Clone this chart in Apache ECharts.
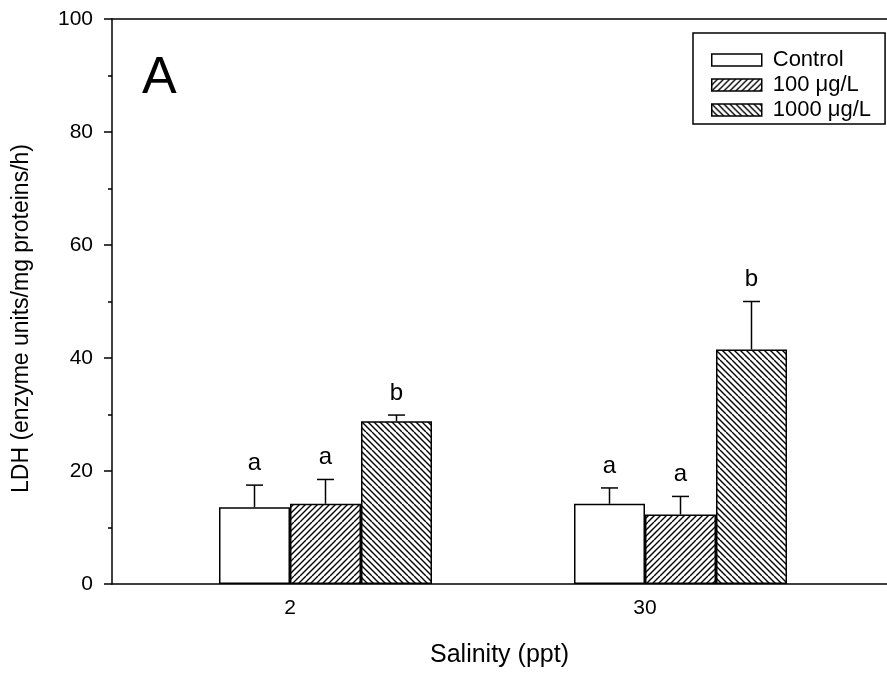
<!DOCTYPE html>
<html>
<head>
<meta charset="utf-8">
<script src="https://cdn.jsdelivr.net/npm/echarts@6/dist/echarts.min.js"></script>
<style>html,body{margin:0;padding:0;background:#fff}#c{width:887px;height:678px}</style>
</head>
<body>
<div id="c"></div>
<script>
const categories = ['2', '30'];
const seriesNames = ['Control', '100 μg/L', '1000 μg/L'];
const controlMean = [13.6, 14.2];
const controlErr = [17.5, 17.0];
const low100Mean = [14.2, 12.3];
const low100Err = [18.5, 15.5];
const high1000Mean = [28.8, 41.5];
const high1000Err = [29.9, 50.0];
const controlLetters = ['a', 'a'];
const low100Letters = ['a', 'a'];
const high1000Letters = ['b', 'b'];
const yTicks = [0, 20, 40, 60, 80, 100];

function hatch(dir) {
  const s = 6, k = 3;
  const cv = document.createElement('canvas');
  cv.width = s * k; cv.height = s * k;
  const ctx = cv.getContext('2d');
  ctx.fillStyle = '#fff';
  ctx.fillRect(0, 0, cv.width, cv.height);
  ctx.strokeStyle = '#000';
  ctx.lineWidth = 1.4;
  const W = s * k;
  ctx.beginPath();
  for (let i = -k; i <= 2 * k; i++) {
    const o = i * s;
    if (dir > 0) { ctx.moveTo(o - W, W); ctx.lineTo(o, 0); ctx.moveTo(o, W); ctx.lineTo(o + W, 0); }
    else { ctx.moveTo(o, 0); ctx.lineTo(o + W, W); }
  }
  ctx.stroke();
  return { image: cv, repeat: 'repeat' };
}

const fills = ['#ffffff', hatch(1), hatch(-1)];
const means = [controlMean, low100Mean, high1000Mean];
const errs = [controlErr, low100Err, high1000Err];
const letters = [controlLetters, low100Letters, high1000Letters];
const BW = 71;
const offsets = [-BW, 0, BW];

const series = [];
for (let s = 0; s < 3; s++) {
  series.push({
    type: 'bar', name: seriesNames[s], xAxisIndex: 2, yAxisIndex: 1,
    barWidth: BW, barGap: '0%', barCategoryGap: '40%',
    data: means[s],
    itemStyle: { color: fills[s], borderColor: '#000', borderWidth: 1.5 },
    emphasis: { disabled: true }, animation: false, z: 2
  });
}
for (let s = 0; s < 3; s++) {
  const data = categories.map((c, i) => [i, means[s][i], errs[s][i]]);
  series.push({
    type: 'custom', xAxisIndex: 2, yAxisIndex: 1, z: 5, animation: false, silent: true,
    data: data,
    renderItem: (params, api) => {
      const i = api.value(0);
      const base = api.coord([i, api.value(1)]);
      const top = api.coord([i, api.value(2)]);
      const x = base[0] + offsets[s];
      const st = { stroke: '#000', lineWidth: 1.5 };
      return {
        type: 'group', children: [
          { type: 'line', shape: { x1: x, y1: base[1], x2: x, y2: top[1] }, style: st },
          { type: 'line', shape: { x1: x - 8.5, y1: top[1], x2: x + 8.5, y2: top[1] }, style: st },
          { type: 'text', x: x, y: top[1] - 10, style: { text: letters[s][i], fill: '#000', font: '24px "Liberation Sans", Arial, sans-serif', align: 'center', verticalAlign: 'bottom' } }
        ]
      };
    }
  });
}

const chart = echarts.init(document.getElementById('c'), null, { renderer: 'canvas' });
const ff = '"Liberation Sans", Arial, sans-serif';
chart.setOption({
  animation: false,
  backgroundColor: '#fff',
  textStyle: { fontFamily: ff, color: '#000' },
  title: { text: 'A', left: 142, top: 53, padding: 0, textStyle: { fontSize: 52, fontWeight: 'normal', color: '#000', fontFamily: ff } },
  legend: {
    orient: 'vertical', left: 693, top: 33, data: seriesNames,
    icon: 'rect',
    itemWidth: 50, itemHeight: 12, itemGap: 3,
    padding: [16, 14, 3, 18],
    borderColor: '#000', borderWidth: 1.5, backgroundColor: '#fff',
    textStyle: { fontSize: 22, color: '#000', fontFamily: ff, padding: [0, 0, 0, 6] },
    itemStyle: { borderColor: '#000', borderWidth: 1.5 },
    selectedMode: false
  },
  grid: [
    { left: 112, right: 0, top: 19, bottom: 94, containLabel: false },
    { left: 148, width: 710, top: 19, bottom: 94, containLabel: false }
  ],
  xAxis: [
    { type: 'value', gridIndex: 0, min: 0, max: 1, position: 'bottom',
      axisLine: { show: true, onZero: false, lineStyle: { color: '#000', width: 1.5 } },
      axisTick: { show: false }, axisLabel: { show: false }, splitLine: { show: false },
      name: 'Salinity (ppt)', nameLocation: 'middle', nameGap: 59,
      nameTextStyle: { fontSize: 25, color: '#000', fontFamily: ff } },
    { type: 'value', gridIndex: 0, min: 0, max: 1, position: 'top',
      axisLine: { show: true, onZero: false, lineStyle: { color: '#000', width: 1.5 } },
      axisTick: { show: false }, axisLabel: { show: false }, splitLine: { show: false } },
    { type: 'category', gridIndex: 1, data: categories,
      axisLine: { show: false }, axisTick: { show: false },
      axisLabel: { margin: 14, fontSize: 21, color: '#000', fontFamily: ff, padding: [0, BW, 0, 0] } }
  ],
  yAxis: [
    { type: 'value', gridIndex: 0, min: 0, max: 100, interval: 20,
      axisLine: { show: true, lineStyle: { color: '#000', width: 1.5 } },
      axisTick: { show: true, inside: false, length: 8, lineStyle: { color: '#000', width: 1.5 } },
      minorTick: { show: true, splitNumber: 2, length: 4, lineStyle: { color: '#000', width: 1.5 } },
      splitLine: { show: false },
      axisLabel: { margin: 19, fontSize: 21, color: '#000', fontFamily: ff,
        formatter: v => (yTicks.indexOf(v) >= 0 ? String(v) : '') },
      name: 'LDH (enzyme units/mg proteins/h)', nameLocation: 'middle', nameGap: 79,
      nameTextStyle: { fontSize: 23, color: '#000', fontFamily: ff, padding: [0, 34, 0, 0] } },
    { type: 'value', gridIndex: 1, min: 0, max: 100, interval: 20, show: false }
  ],
  series: series
});
</script>
</body>
</html>
